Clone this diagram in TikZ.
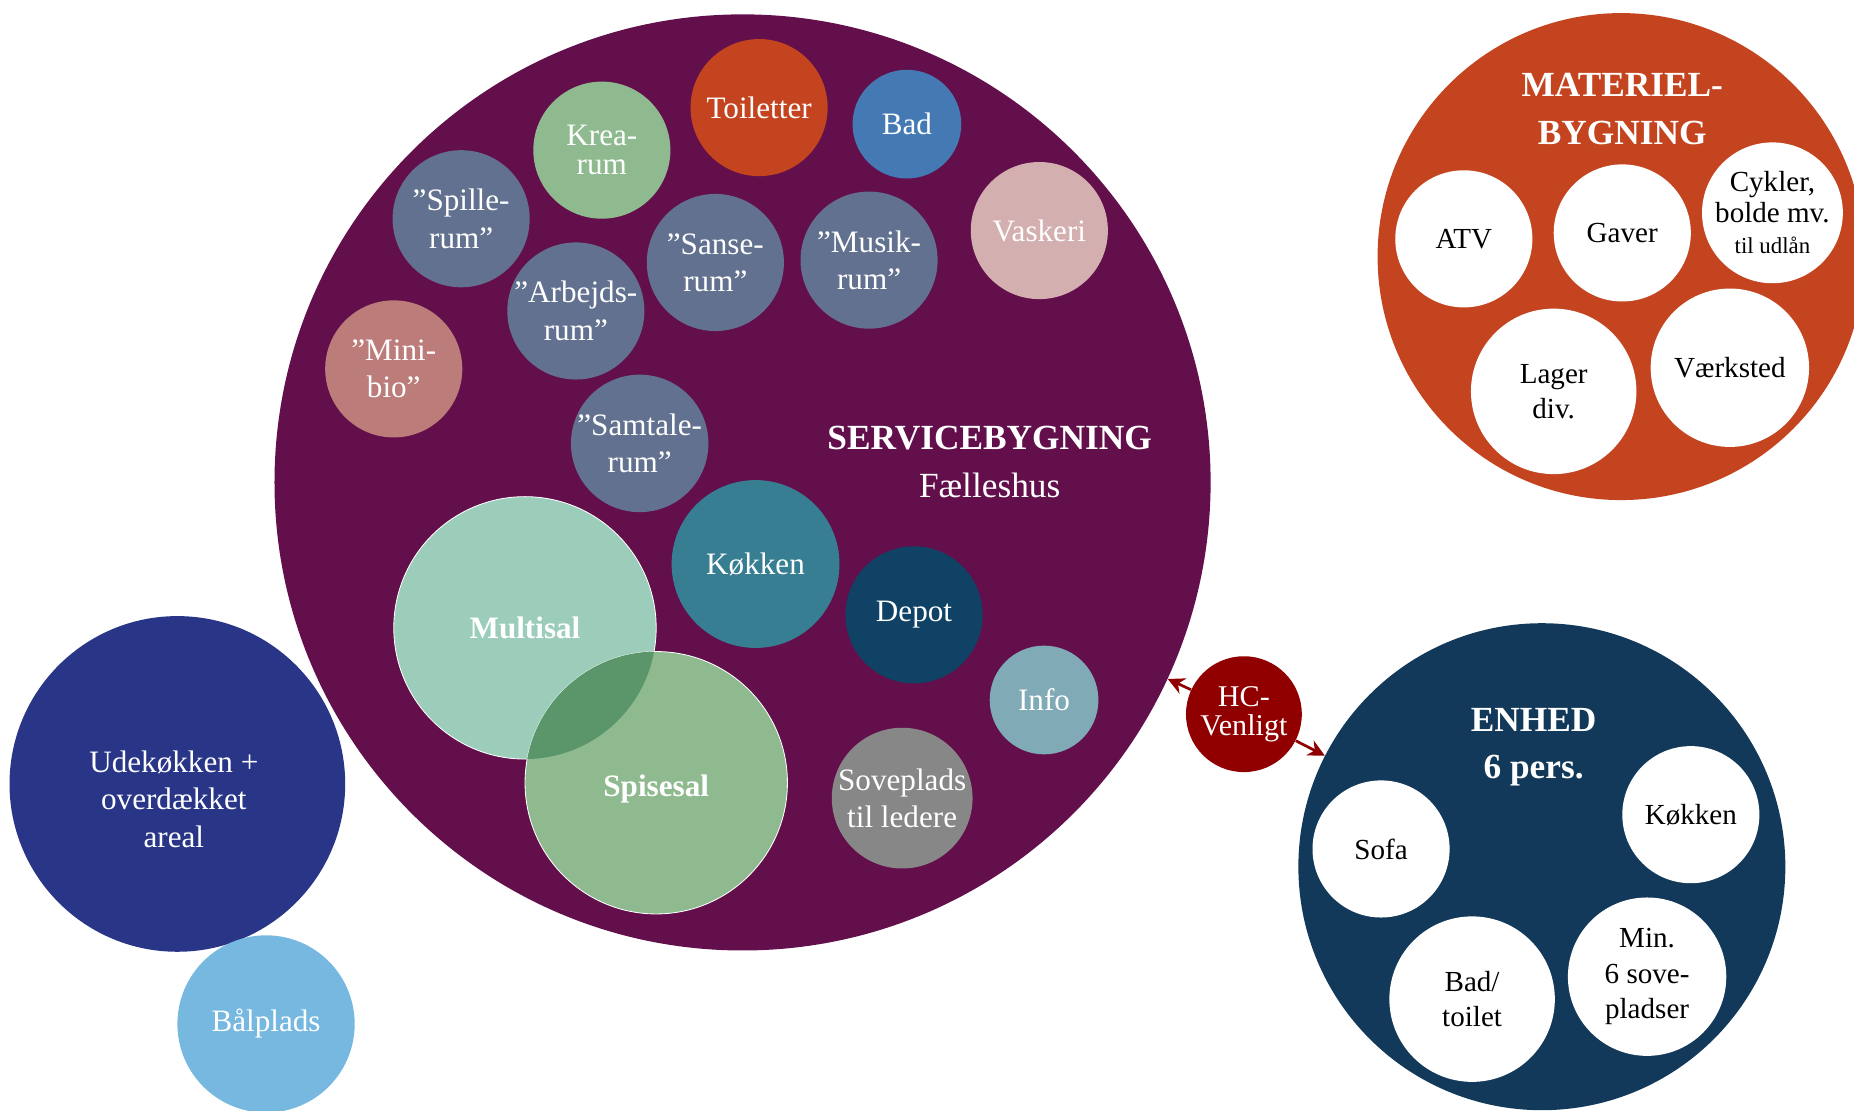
\documentclass[tikz,border=0pt]{standalone}
\usepackage{fontspec}
\setmainfont{Liberation Serif}
\usetikzlibrary{arrows.meta}
\definecolor{lilla}{HTML}{620F4C}
\definecolor{rustrod}{HTML}{C44420}
\definecolor{badblaa}{HTML}{4479B4}
\definecolor{kreagron}{HTML}{8FBA8F}
\definecolor{skifer}{HTML}{62718F}
\definecolor{rosa}{HTML}{D4AFB0}
\definecolor{gammelrosa}{HTML}{BC7C7A}
\definecolor{petrol}{HTML}{387E93}
\definecolor{natblaa}{HTML}{0F4265}
\definecolor{isblaa}{HTML}{7FAAB6}
\definecolor{graa}{HTML}{878787}
\definecolor{mint}{HTML}{9BCDBA}
\definecolor{mork gron}{HTML}{5A9669}
\definecolor{indigo}{HTML}{293688}
\definecolor{himmel}{HTML}{77B8E1}
\definecolor{enhedblaa}{HTML}{12395A}
\definecolor{hcrod}{HTML}{900000}
\begin{document}
\begin{tikzpicture}[x=0.02cm,y=-0.02cm,
  bobl/.style={circle,inner sep=0pt,minimum size=#1*0.04cm,align=center,text=white,font=\fontsize{15}{18}\selectfont},
  hvid/.style={bobl=#1,fill=white,text=black,font=\fontsize{14}{17}\selectfont},
  titel/.style={align=center,text=white,font=\bfseries\fontsize{17}{23}\selectfont},
  pil/.style={draw=hcrod,line width=1.3pt,-{Stealth[length=8pt,width=8pt]}}]
\fill[white] (0,0) rectangle (1568,939);
\useasboundingbox (0,0) rectangle (1568,939);
% servicebygning
\node[bobl=396,fill=lilla] (serv) at (628,408) {};
\node[titel,font=\fontsize{17}{23}\selectfont] (servtitel) at (837,391) {\textbf{SERVICEBYGNING}\\Fælleshus};
\node[bobl=58,fill=rustrod] (toilet) at (642,91) {Toiletter};
\node[bobl=46,fill=badblaa] (bad) at (767,105) {Bad};
\node[bobl=58,fill=kreagron,font=\fontsize{15}{14}\selectfont] (krea) at (509,127) {Krea-\\rum};
\node[bobl=58,fill=skifer] (spille) at (390,185) {”Spille-\\rum”};
\node[bobl=58,fill=skifer] (sanse) at (605,222) {”Sanse-\\rum”};
\node[bobl=58,fill=skifer] (musik) at (735,220) {”Musik-\\rum”};
\node[bobl=58,fill=rosa] (vask) at (879,195) {Vaskeri};
\node[bobl=58,fill=skifer] (arbejd) at (487,263) {”Arbejds-\\rum”};
\node[bobl=58,fill=gammelrosa] (minibio) at (333,312) {”Mini-\\bio”};
\node[bobl=58,fill=skifer] (samtale) at (541,375) {”Samtale-\\rum”};
\node[bobl=71,fill=petrol] (kokken) at (639,477) {Køkken};
\node[bobl=58,fill=natblaa] (depot) at (773,520) {Depot};
\node[bobl=46,fill=isblaa] (info) at (883,592) {Info};
\node[bobl=58,fill=graa] (sove) at (763,675) {Soveplads\\til ledere};
\node[bobl=111,fill=mint,draw=white,line width=0.4pt] (multi) at (444,531) {};
\node[bobl=111,fill=kreagron,draw=white,line width=0.4pt] (spise) at (555,662) {};
\begin{scope}
\clip (multi.center) circle (2.22cm);
\fill[mork gron] (spise.center) circle (2.22cm);
\end{scope}
\node[text=white,font=\bfseries\fontsize{15}{18}\selectfont] (multitekst) at (multi.center) {Multisal};
\node[text=white,font=\bfseries\fontsize{15}{18}\selectfont] (spisetekst) at ([yshift=-3]spise.center) {Spisesal};
% udeomraader
\node[bobl=142,fill=indigo] (ude) at (150,663) {};
\node[text=white,align=center,font=\fontsize{15}{18}\selectfont] (udetekst) at (147,676) {Udekøkken +\\overdækket\\areal};
\node[bobl=75,fill=himmel] (baal) at (225,866) {Bålplads};
% materielbygning
\node[bobl=206,fill=rustrod] (materiel) at (1371,217) {};
\node[titel] (mattitel) at (1372,92) {MATERIEL-\\BYGNING};
\node[hvid=58] (atv) at (1238,202) {ATV};
\node[hvid=58] (gaver) at (1372,197) {Gaver};
\node[hvid=58,font=\fontsize{14}{15}\selectfont] (cykler) at (1499,180) {Cykler,\\bolde mv.\\{\fontsize{11}{12}\selectfont til udlån}};
\node[hvid=70] (lager) at (1314,331) {Lager\\div.};
\node[hvid=67] (vaerk) at (1463,311) {Værksted};
% enhed
\node[bobl=206,fill=enhedblaa] (enhed) at (1304,733) {};
\node[titel] (enhedtitel) at (1297,632) {ENHED\\6 pers.};
\node[hvid=58] (sofa) at (1168,718) {Sofa};
\node[hvid=58] (ekokken) at (1430,689) {Køkken};
\node[hvid=70] (badtoilet) at (1245,845) {Bad/\\toilet};
\node[hvid=67] (sengeplads) at (1393,826) {Min.\\6 sove-\\pladser};
% hc
\node[bobl=49,fill=hcrod,font=\fontsize{14.5}{14}\selectfont] (hc) at (1052,604) {HC-\\Venligt};
\draw[pil] (hc) -- (serv);
\draw[pil] (hc) -- (enhed);
\end{tikzpicture}
\end{document}
